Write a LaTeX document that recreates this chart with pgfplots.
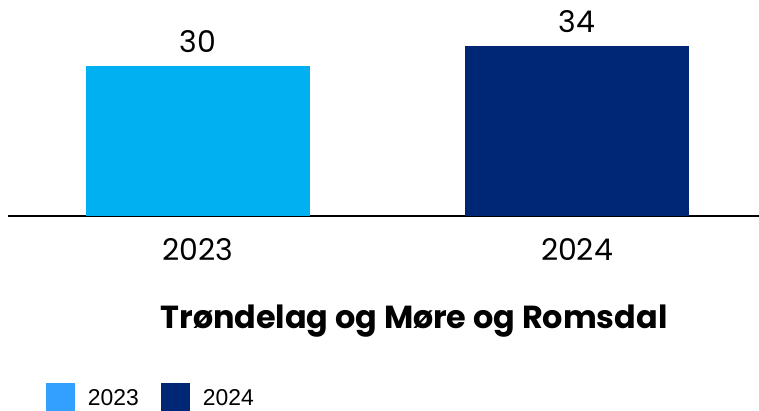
\documentclass[border=0pt]{standalone}
\usepackage{pgfplots}
\pgfplotsset{compat=1.18}
\usepackage{fontspec}
\setmainfont{Poppins}
\newfontfamily\titlefont{Poppins}
\newfontfamily\legendfont{Liberation Sans}
\definecolor{c23}{HTML}{00B0F0}
\definecolor{c24}{HTML}{002776}
\definecolor{l23}{HTML}{33A0FF}
\pgfplotsset{sqlegend/.style={legend image code/.code={\fill[##1] (0bp,-6bp) rectangle (29bp,23bp);}}}
\begin{document}
\begin{tikzpicture}
\begin{axis}[
  at={(0,0)}, anchor=south west,
  scale only axis, width=751bp, height=216bp,
  xmin=-0.5013, xmax=1.4802, ymin=0, ymax=43.2,
  axis x line=bottom, axis y line=none,
  x axis line style={line width=2bp, -, black},
  /pgf/number format/assume math mode=true,
  xtick={0,1}, xticklabels={2023,2024}, major tick length=0pt, ytick=\empty,
  xticklabel style={font=\fontsize{30}{32}\selectfont, anchor=base, yshift=-44bp},
  xlabel={\titlefont\bfseries Trøndelag og Møre og Romsdal},
  xlabel style={at={(axis description cs:0.5406,-0.5231)}, anchor=base, font=\fontsize{32}{34}\selectfont},
  clip=false,
  sqlegend,
  legend columns=2,
  legend style={at={(rel axis cs:0.0506,-0.8403)}, anchor=west, draw=none, fill=none,
    inner sep=0pt, outer sep=0pt, font=\legendfont\fontsize{23}{25}\selectfont,
    nodes={inner sep=0pt, yshift=8bp},
    /tikz/every odd column/.append style={column sep=13bp},
    /tikz/every even column/.append style={column sep=22bp}},
  nodes near coords style={font=\fontsize{30}{32}\selectfont, anchor=base, yshift=13bp},
]
\addplot[ybar, bar width=224bp, bar shift=0pt, fill=c23, draw=none, forget plot,
  nodes near coords]
  coordinates {(0,30)};
\addplot[ybar, bar width=224bp, bar shift=0pt, fill=c24, draw=none, forget plot,
  nodes near coords]
  coordinates {(1,34)};
\addlegendimage{sqlegend, fill=l23, draw=none}
\addlegendentry{2023}
\addlegendimage{sqlegend, fill=c24, draw=none}
\addlegendentry{2024}
\end{axis}
\pgfresetboundingbox
\useasboundingbox (-8bp,-195bp) rectangle (751bp,216bp);
\end{tikzpicture}
\end{document}
